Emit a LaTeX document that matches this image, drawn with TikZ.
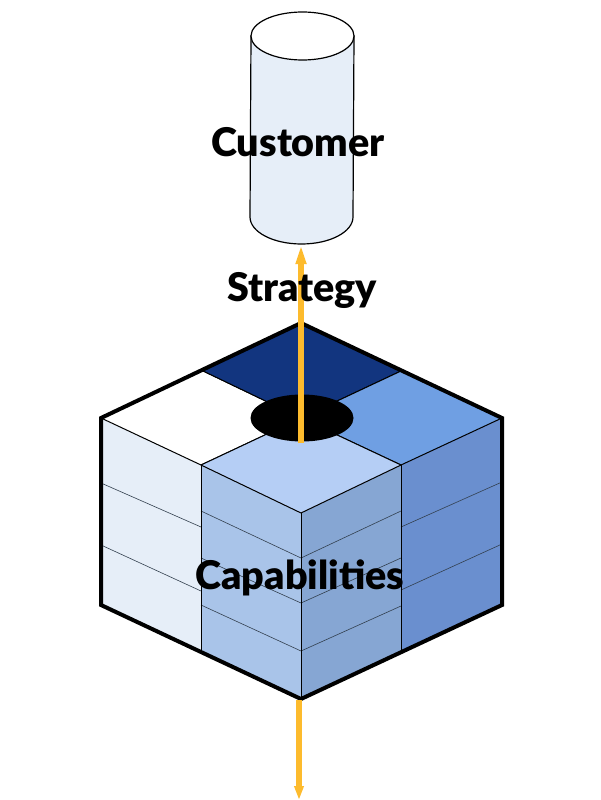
\documentclass[tikz,border=0pt]{standalone}
\usepackage{fontspec}
\usetikzlibrary{arrows.meta,shapes.geometric}
\newfontfamily\lato{Lato Black}
\definecolor{pale}{HTML}{E6EEF8}
\definecolor{midl}{HTML}{A9C4E9}
\definecolor{midr}{HTML}{86A6D3}
\definecolor{deep}{HTML}{6A8FCF}
\definecolor{topdark}{HTML}{12357F}
\definecolor{topmid}{HTML}{6F9FE3}
\definecolor{toplight}{HTML}{B5CEF5}
\definecolor{amber}{HTML}{FDBB2D}
\definecolor{seam}{HTML}{33404F}
\tikzset{
  x=1pt,y=-1pt,
  cell/.style={draw=black,line width=1pt,line join=round},
  layer/.style={draw=seam,line width=0.6pt},
  outline/.style={draw=black,line width=4pt,line join=miter},
  shaft/.style={draw=amber,line width=5.5pt},
  caption/.style={font=\lato\fontsize{39.5}{42}\selectfont,text=black,inner sep=0pt}
}
\begin{document}
\begin{tikzpicture}
\useasboundingbox (0,0) rectangle (600,800);
% side faces
\fill[pale] (101,418) -- (201,465) -- (201,652) -- (101,605) -- cycle;
\fill[midl] (201,465) -- (301,513) -- (301,699) -- (201,652) -- cycle;
\fill[midr] (301,513) -- (401,465) -- (401,652) -- (301,699) -- cycle;
\fill[deep] (401,465) -- (502,418) -- (502,605) -- (401,652) -- cycle;
% layer lines
\draw[layer] (101,483) -- (201,527) (101,545) -- (201,591);
\draw[layer] (201,511) -- (301,558) -- (401,511);
\draw[layer] (201,558) -- (301,603) -- (401,558);
\draw[layer] (201,605) -- (301,651) -- (401,606);
\draw[layer] (401,527) -- (502,482) (401,590) -- (502,544);
\draw[cell] (201,465) -- (201,652) (301,513) -- (301,699) (401,465) -- (401,652);
% top face
\draw[cell,fill=white] (101,418) -- (201,370) -- (301,418) -- (201,465) -- cycle;
\draw[cell,fill=topdark] (201,370) -- (301,323) -- (401,371) -- (301,418) -- cycle;
\draw[cell,fill=topmid] (301,418) -- (401,371) -- (502,418) -- (401,465) -- cycle;
\draw[cell,fill=toplight] (201,465) -- (301,418) -- (401,465) -- (301,513) -- cycle;
\draw[outline] (101,418) -- (301,323) -- (502,418) -- (502,605) -- (301,699) -- (101,605) -- cycle;
% hole
\node[ellipse,fill=black,minimum width=103pt,minimum height=47pt,inner sep=0pt] (hole) at (302,418) {};
% cylinder
\draw[fill=pale,line width=1.2pt] (251,36) -- (250,217) arc[x radius=51.5,y radius=27,start angle=180,end angle=0] -- (354,36) -- cycle;
\draw[fill=white,line width=1.2pt] (302.5,36) ellipse[x radius=51.5,y radius=24];
% arrows
\coordinate (cyl) at (301,244);
\coordinate (holeb) at (301,443);
\coordinate (cubeb) at (299,700);
\coordinate (endb) at (299,800);
\draw[shaft,-{Triangle[width=9.5pt,length=20pt,color=amber]}] (holeb) -- (cyl);
\draw[shaft,-{Triangle[width=9pt,length=14pt,color=amber]}] (cubeb) -- (endb);
% labels
\node[caption] (cust) at (298,142) {Customer};
\node[caption] (strat) at (302,290) {Strategy};
\node[caption] (caps) at (300,578) {Capabilities};
\end{tikzpicture}
\end{document}
